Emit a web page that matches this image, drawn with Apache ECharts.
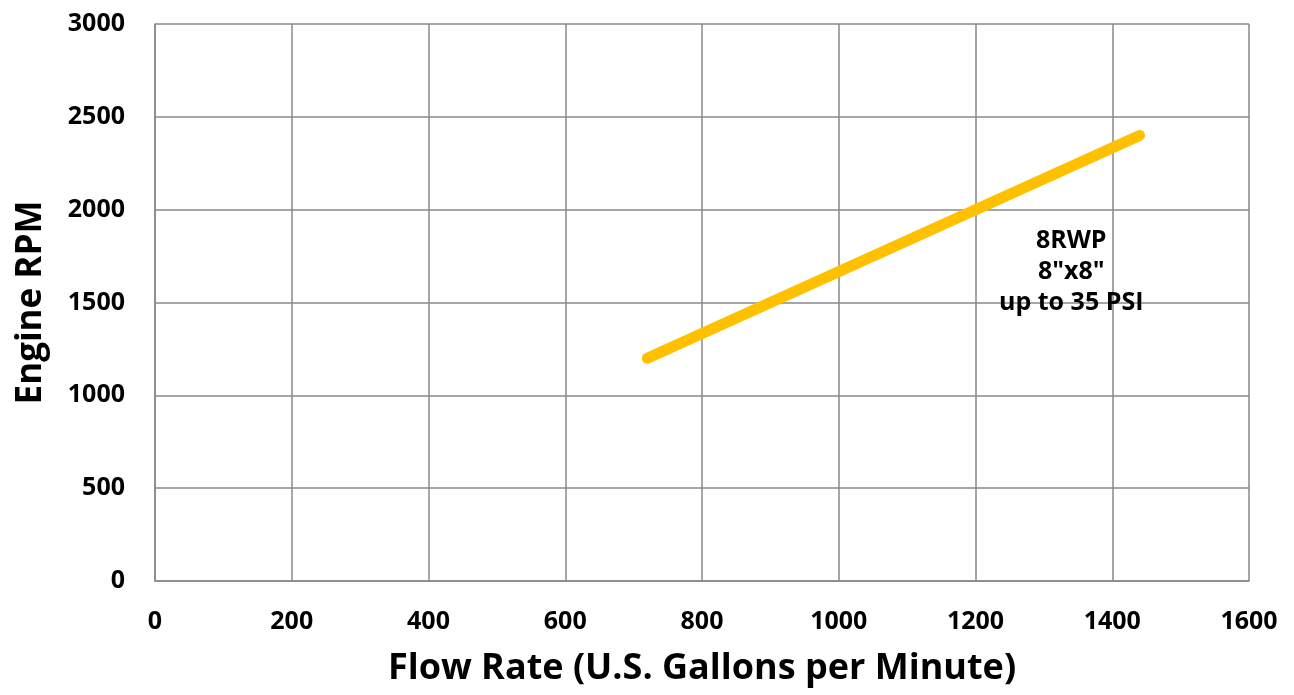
<!DOCTYPE html>
<html>
<head>
<meta charset="utf-8">
<script src="https://cdn.jsdelivr.net/npm/echarts@6/dist/echarts.min.js"></script>
<style>html,body{margin:0;padding:0;background:#fff}#c{width:1294px;height:695px}</style>
</head>
<body>
<div id="c"></div>
<script>
const flowRate = [720, 1440];
const engineRpm = [1200, 2400];
const xTicks = [0, 1600, 200];
const yTicks = [0, 3000, 500];
const annotationPos = [1340, 1665];
const annotationText = '8RWP\n8"x8"\nup to 35 PSI';

const font = '"Open Sans", "Liberation Sans", sans-serif';
const chart = echarts.init(document.getElementById('c'));
chart.setOption({
  animation: false,
  grid: {left: 155, right: 45, top: 24, bottom: 114},
  xAxis: {
    type: 'value', min: xTicks[0], max: xTicks[1], interval: xTicks[2],
    name: 'Flow Rate (U.S. Gallons per Minute)', nameLocation: 'middle', nameGap: 70,
    nameTextStyle: {fontFamily: font, fontWeight: 'bold', fontSize: 36, color: '#000'},
    axisLine: {show: true, lineStyle: {color: '#888', width: 1.5}},
    axisTick: {show: false},
    axisLabel: {fontFamily: font, fontWeight: 'bold', fontSize: 25, color: '#000', margin: 28,
      formatter: v => String(v)},
    splitLine: {show: true, lineStyle: {color: '#888', width: 1.5}}
  },
  yAxis: {
    type: 'value', min: yTicks[0], max: yTicks[1], interval: yTicks[2],
    name: 'Engine RPM', nameLocation: 'middle', nameGap: 106,
    nameTextStyle: {fontFamily: font, fontWeight: 'bold', fontSize: 35, color: '#000'},
    axisLine: {show: true, lineStyle: {color: '#888', width: 1.5}},
    axisTick: {show: false},
    axisLabel: {fontFamily: font, fontWeight: 'bold', fontSize: 25, color: '#000', margin: 30,
      formatter: v => String(v)},
    splitLine: {show: true, lineStyle: {color: '#888', width: 1.5}}
  },
  series: [
    {
      type: 'line',
      data: flowRate.map((x, i) => [x, engineRpm[i]]),
      symbol: 'none',
      lineStyle: {color: '#FFC000', width: 11, cap: 'round'}
    },
    {
      type: 'scatter',
      data: [annotationPos],
      symbolSize: 1,
      itemStyle: {color: 'rgba(0,0,0,0)', opacity: 1},
      silent: true,
      label: {
        show: true, position: 'inside', formatter: annotationText,
        fontFamily: font, fontWeight: 'bold', fontSize: 25, color: '#000',
        textBorderWidth: 0, lineHeight: 31, align: 'center'
      }
    }
  ]
});
</script>
</body>
</html>
